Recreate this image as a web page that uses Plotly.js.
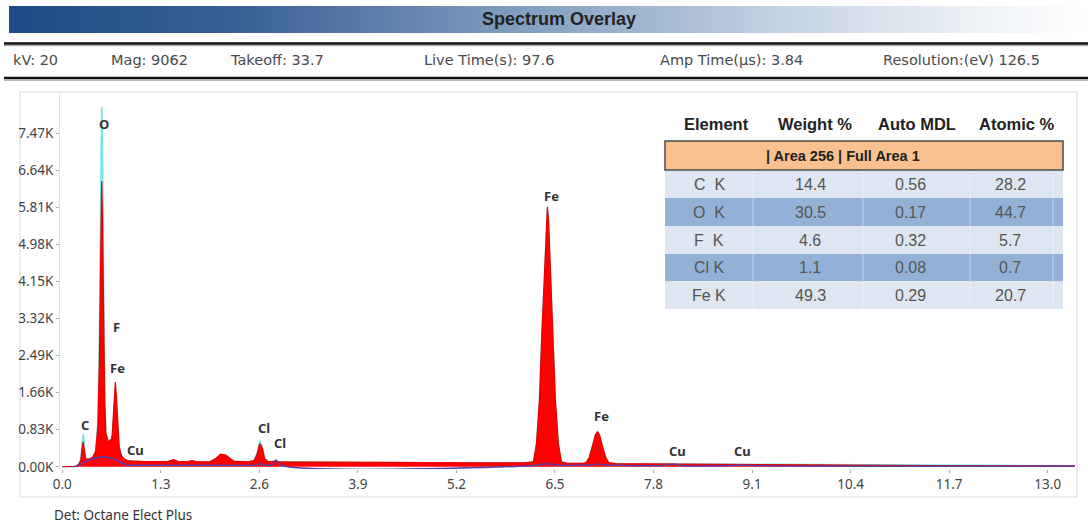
<!DOCTYPE html>
<html>
<head>
<meta charset="utf-8">
<script src="https://cdn.plot.ly/plotly-3.0.1.min.js"></script>
<style>
  html, body { margin:0; padding:0; background:#ffffff; }
  #wrap { position:relative; width:1088px; height:524px; overflow:hidden; }
  #band { position:absolute; left:9px; top:6px; width:1079px; height:27px;
          background:linear-gradient(to right, #1f4a86 0%, #3b6196 22%, #839fc1 48%, #c6d3e3 72%, #eef2f7 90%, #ffffff 100%); }
  #chart { position:absolute; left:0; top:0; width:1088px; height:524px; }
</style>
</head>
<body>
<div id="wrap"><div id="band"></div><div id="chart"></div></div>
<script>
// ---------------- data ----------------
const energy = [0.00,0.10,0.18,0.22,0.245,0.262,0.277,0.292,0.31,0.35,0.40,0.44,0.47,0.49,0.505,0.52,0.53,0.545,0.56,0.575,0.59,0.60,0.615,0.63,0.645,0.66,0.675,0.69,0.70,0.715,0.73,0.75,0.78,0.82,0.88,0.95,1.10,1.30,1.40,1.47,1.53,1.65,1.71,1.78,1.95,2.03,2.09,2.15,2.21,2.27,2.45,2.53,2.57,2.605,2.635,2.67,2.72,2.80,2.86,3.2,3.7,4.3,5.0,5.6,6.1,6.215,6.255,6.295,6.325,6.35,6.385,6.40,6.415,6.45,6.475,6.505,6.545,6.585,6.65,6.87,6.91,6.95,7.00,7.03,7.06,7.09,7.12,7.17,7.21,7.3,7.6,8.0,8.3,9.0,10.0,11.0,12.0,13.36];
const countsArea = [0,0,10,60,150,420,560,350,170,170,210,350,900,2400,4500,6400,5600,3300,1500,750,650,560,520,610,560,750,1200,1700,1900,1550,900,450,250,170,130,120,115,115,120,160,115,115,140,112,115,190,285,270,200,120,110,140,280,520,430,180,110,120,110,105,100,95,85,85,90,110,500,1500,2900,4000,5500,5820,5500,4000,2900,1500,500,110,80,75,95,200,500,700,790,700,500,200,95,70,65,60,55,48,40,30,22,18];
const countsOverlay = [0,0,10,60,170,520,740,420,180,170,210,340,1000,3000,6000,8050,7200,3600,1400,700,620,540,500,560,520,650,1050,1500,1650,1400,850,420,240,160,125,115,110,110,115,140,110,110,125,108,110,170,260,250,185,115,105,140,300,580,470,190,110,125,110,100,95,90,80,80,85,105,480,1450,2850,3950,5450,5770,5450,3950,2850,1450,480,105,78,72,90,195,490,690,780,690,490,195,90,68,64,62,58,52,44,35,27,24];
const bgEnergy = [0.15,0.22,0.30,0.40,0.50,0.60,0.70,0.80,0.86,1.00,2.00,2.55,2.61,2.67,2.76,2.82,2.88,6.25,6.35,6.45,6.55,6.98,7.06,7.14,7.95,8.05,8.15,8.85,8.95,9.05,13.36];
const bgCounts = [0,30,110,180,220,210,160,80,40,35,35,40,70,40,40,150,40,35,60,60,35,45,60,45,30,60,30,28,40,28,15];

const peakLabels = ["O","F","Fe","C","Cu","Cl","Cl","Fe","Fe","Cu","Cu"];
const peakLabelE = [0.55,0.71,0.735,0.30,0.97,2.66,2.87,6.46,7.12,8.11,8.98];
const peakLabelY = [7676,3130,2212,936,376,869,533,6063,1137,354,354];

const xTickVals = [0.0,1.3,2.6,3.9,5.2,6.5,7.8,9.1,10.4,11.7,13.0];
const xTickText = ["0.0","1.3","2.6","3.9","5.2","6.5","7.8","9.1","10.4","11.7","13.0"];
const yTickVals = [0,830,1660,2490,3320,4150,4980,5810,6640,7470];
const yTickText = ["0.00K","0.83K","1.66K","2.49K","3.32K","4.15K","4.98K","5.81K","6.64K","7.47K"];

const titleText = "Spectrum Overlay";
const infoLabels = ["kV: 20","Mag: 9062","Takeoff: 33.7","Live Time(s): 97.6","Amp Time(\u03bcs): 3.84","Resolution:(eV) 126.5"];
const footerText = "Det: Octane Elect Plus";

const tableHeaders = ["Element","Weight %","Auto MDL","Atomic %"];
const tableGroup = "| Area 256 | Full Area 1";
const elements = ["C\u00a0\u00a0K","O\u00a0\u00a0K","F\u00a0\u00a0K","Cl K","Fe K"];
const weightPct = ["14.4","30.5","4.6","1.1","49.3"];
const autoMDL = ["0.56","0.17","0.32","0.08","0.29"];
const atomicPct = ["28.2","44.7","5.7","0.7","20.7"];

// ---------------- layout helpers ----------------
const PL = 60, PR = 1075, PT = 93, PB = 469;
const fx = px => (px - PL) / (PR - PL);
const fy = py => (PB - py) / (PB - PT);
const sansA = "Liberation Sans, Arial, sans-serif";
const sansB = "Noto Sans, Open Sans, sans-serif";
const sansC = "DejaVu Sans, sans-serif";

const shapes = [];
const annotations = [];

// outer frame
shapes.push({type:"rect", xref:"paper", yref:"paper", x0:fx(20), x1:fx(1077), y0:fy(497), y1:fy(92),
  line:{color:"#d9d9d9", width:1}, fillcolor:"rgba(0,0,0,0)", layer:"below"});
// header rules
[43.5, 78].forEach(y => {
  shapes.push({type:"line", xref:"paper", yref:"paper", x0:fx(4), x1:fx(1088), y0:fy(y), y1:fy(y), line:{color:"#111", width:2.5}});
  shapes.push({type:"line", xref:"paper", yref:"paper", x0:fx(4), x1:fx(1088), y0:fy(y+2.2), y1:fy(y+2.2), line:{color:"#9a9a9a", width:1}});
});

annotations.push({xref:"paper", yref:"paper", x:fx(559), y:fy(19.5), text:"<b>"+titleText+"</b>", showarrow:false,
  xanchor:"center", yanchor:"middle", font:{family:sansA, size:18, color:"#222"}});
const infoX = [13, 111, 230, 424, 660, 883];
infoLabels.forEach((t,i) => annotations.push({xref:"paper", yref:"paper", x:fx(infoX[i]), y:fy(60.5), text:t, showarrow:false,
  xanchor:"left", yanchor:"middle", xshift:-2, font:{family:sansC, size:14.5, color:"#4a4a4a"}}));
annotations.push({xref:"paper", yref:"paper", x:fx(52), y:fy(515), text:footerText, showarrow:false,
  xanchor:"left", yanchor:"middle", font:{family:sansB, size:13.5, color:"#333"}});

// table
const TX0 = 665, TX1 = 1063;
const colX = [709, 810, 910, 1010];
const headX = [716, 815, 917, 1017];
tableHeaders.forEach((t,i) => annotations.push({xref:"paper", yref:"paper", x:fx(headX[i]), y:fy(124), text:"<b>"+t+"</b>", showarrow:false,
  xanchor:"center", yanchor:"middle", font:{family:sansA, size:16.5, color:"#222"}}));
shapes.push({type:"rect", xref:"paper", yref:"paper", x0:fx(TX0), x1:fx(TX1), y0:fy(170), y1:fy(141),
  fillcolor:"#f8c18f", line:{color:"#4a4a4a", width:1.5}});
annotations.push({xref:"paper", yref:"paper", x:fx(843), y:fy(156), text:"<b>"+tableGroup+"</b>", showarrow:false,
  xanchor:"center", yanchor:"middle", font:{family:sansA, size:14.5, color:"#222"}});
const rowTop = [171, 198, 226, 254, 281];
const rowBot = [198, 226, 254, 281, 309];
elements.forEach((el,i) => {
  shapes.push({type:"rect", xref:"paper", yref:"paper", x0:fx(TX0), x1:fx(TX1), y0:fy(rowBot[i]), y1:fy(rowTop[i]),
    fillcolor: i%2===0 ? "#dde6f1" : "#93b1d7", line:{width:0}});
  const yc = fy((rowTop[i]+rowBot[i])/2);
  [el, weightPct[i], autoMDL[i], atomicPct[i]].forEach((t,j) => annotations.push({xref:"paper", yref:"paper", x:fx(colX[j]), y:yc,
    text:t, showarrow:false, xanchor:"center", yanchor:"middle", font:{family:sansA, size:16, color:"#555"}}));
});
[753, 863, 970, 1053].forEach(x => shapes.push({type:"line", xref:"paper", yref:"paper", x0:fx(x), x1:fx(x), y0:fy(309), y1:fy(171),
  line:{color:"rgba(255,255,255,0.45)", width:1}}));

// peak labels
peakLabels.forEach((t,i) => annotations.push({x:peakLabelE[i], y:peakLabelY[i], xref:"x", yref:"y", text:"<b>"+t+"</b>", showarrow:false,
  xanchor:"center", yanchor:"middle", font:{family:sansB, size:13, color:"#333"}}));

const traces = [
  {x:energy, y:countsOverlay, type:"scatter", mode:"lines", line:{color:"#74e4e6", width:1.6}, hoverinfo:"skip"},
  {x:energy, y:countsArea, type:"scatter", mode:"lines", fill:"tozeroy", fillcolor:"#ff0000",
   line:{color:"#e80000", width:1.2, shape:"linear"}, hoverinfo:"skip"},
  {x:bgEnergy, y:bgCounts, type:"scatter", mode:"lines", line:{color:"#5b3ea6", width:1.5, shape:"spline"}, hoverinfo:"skip"}
];

const layout = {
  width:1088, height:524,
  margin:{l:PL, r:1088-PR, t:PT, b:524-PB, pad:0},
  paper_bgcolor:"rgba(0,0,0,0)", plot_bgcolor:"#ffffff",
  showlegend:false,
  xaxis:{range:[-0.03,13.36], tickvals:xTickVals, ticktext:xTickText, ticks:"outside", ticklen:3, tickcolor:"#aaa",
    showgrid:false, zeroline:false, showline:false, tickfont:{family:sansB, size:13.5, color:"#444"}, fixedrange:true},
  yaxis:{range:[-50,8370], tickvals:yTickVals, ticktext:yTickText, ticks:"outside", ticklen:3, tickcolor:"#aaa",
    showgrid:false, zeroline:false, showline:true, linecolor:"#e0e0e0", linewidth:1,
    tickfont:{family:sansB, size:13.5, color:"#444"}, fixedrange:true},
  shapes:shapes, annotations:annotations
};
Plotly.newPlot("chart", traces, layout, {displayModeBar:false, staticPlot:true});
</script>
</body>
</html>
